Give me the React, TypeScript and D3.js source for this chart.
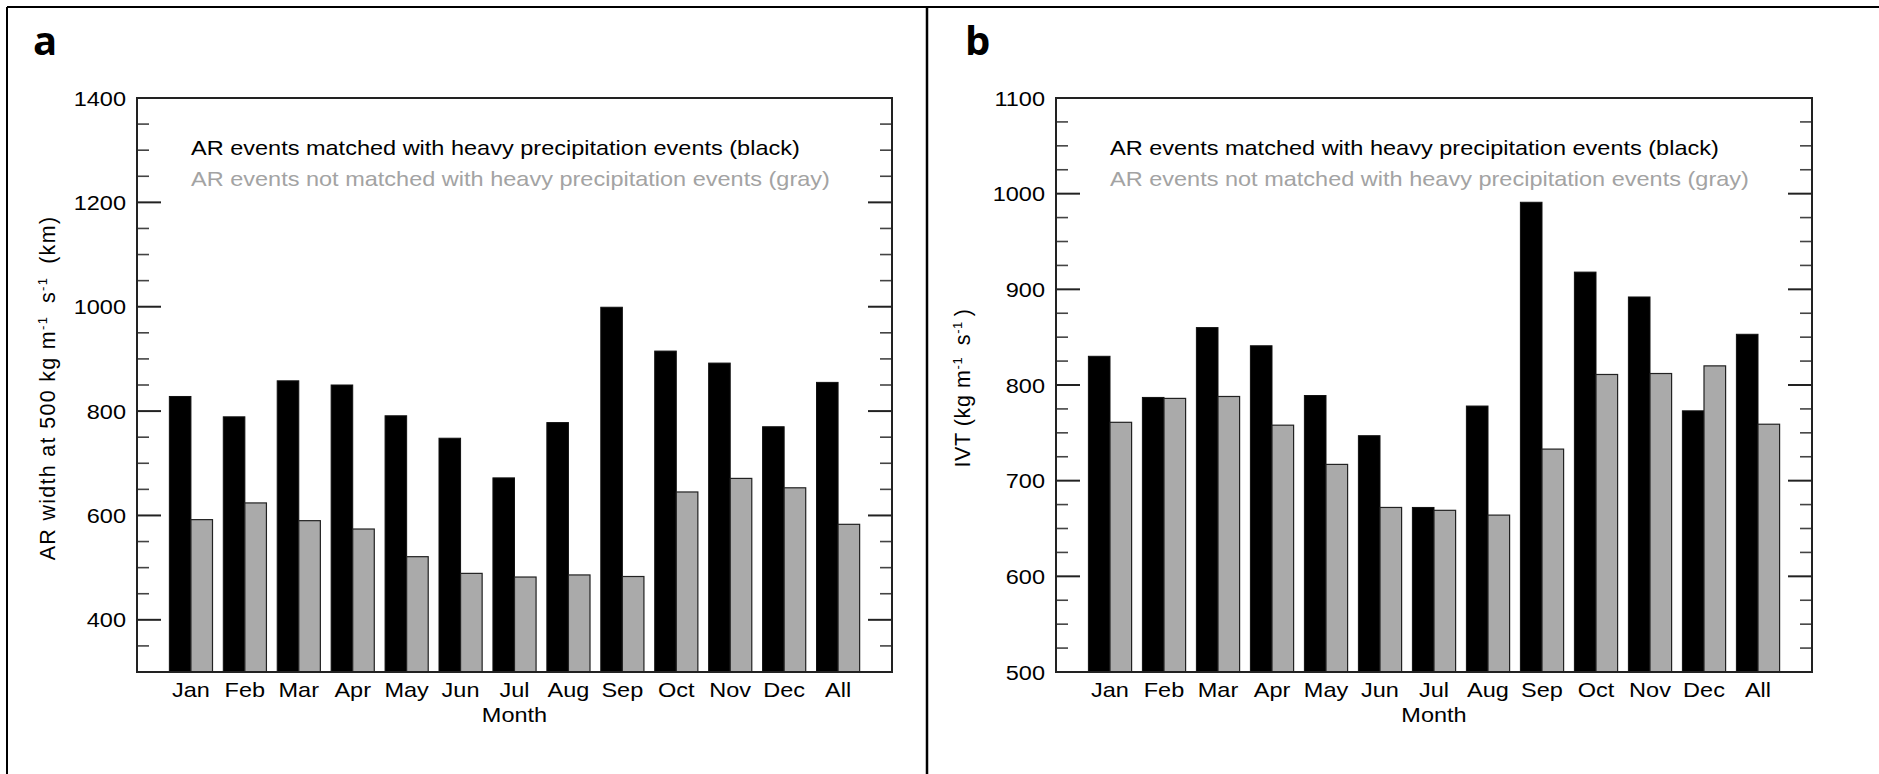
import React, { useEffect, useRef } from 'react';
import * as d3 from 'd3';

const months = ['Jan', 'Feb', 'Mar', 'Apr', 'May', 'Jun', 'Jul', 'Aug', 'Sep', 'Oct', 'Nov', 'Dec', 'All'];

// panel a: AR width (km)
const widthMatched = [828, 789, 858, 850, 791, 748, 672, 778, 999, 915, 892, 770, 855];
const widthUnmatched = [592, 624, 590, 574, 521, 489, 482, 486, 483, 645, 671, 653, 583];
const widthTicks = [400, 600, 800, 1000, 1200, 1400];

// panel b: IVT
const ivtMatched = [830, 787, 860, 841, 789, 747, 672, 778, 991, 918, 892, 773, 853];
const ivtUnmatched = [761, 786, 788, 758, 717, 672, 669, 664, 733, 811, 812, 820, 759];
const ivtTicks = [500, 600, 700, 800, 900, 1000, 1100];

const legendBlack = 'AR events matched with heavy precipitation events (black)';
const legendGray = 'AR events not matched with heavy precipitation events (gray)';

const FONT = '"Liberation Sans", Arial, Helvetica, sans-serif';
const SX = 1.12; // text in the figure is a bit wider than Helvetica

function stretchedText(g, x, y, str, anchor = 'start', color = '#000', size = 21) {
    return g.append('text')
        .attr('transform', `translate(${x},${y}) scale(${SX},1)`)
        .attr('text-anchor', anchor)
        .attr('font-family', FONT)
        .attr('font-size', size)
        .attr('fill', color)
        .text(str);
}

function drawPanel(svg, opts) {
    const { left, right, top, bottom, domain, ticks, minorStep, matched, unmatched, letter, letterX, yLabel, yLabelX, yLabelSpacing } = opts;
    const g = svg.append('g');

    const x = d3.scalePoint().domain(months).range([left, right]).padding(1);
    const y = d3.scaleLinear().domain(domain).range([bottom, top]);
    const bw = x.step() * 0.4;

    // bars
    g.selectAll('rect.black')
        .data(months)
        .enter().append('rect')
        .attr('x', d => x(d) - bw)
        .attr('y', (d, i) => y(matched[i]))
        .attr('width', bw)
        .attr('height', (d, i) => bottom - y(matched[i]))
        .attr('fill', '#000')
        .attr('stroke', '#111')
        .attr('stroke-width', 1);

    g.selectAll('rect.gray')
        .data(months)
        .enter().append('rect')
        .attr('x', d => x(d))
        .attr('y', (d, i) => y(unmatched[i]))
        .attr('width', bw)
        .attr('height', (d, i) => bottom - y(unmatched[i]))
        .attr('fill', '#aaaaaa')
        .attr('stroke', '#222')
        .attr('stroke-width', 1.2);

    // minor + major ticks, both sides, pointing inward
    const minor = d3.range(domain[0], domain[1] + 0.001, minorStep).filter(v => v > domain[0] && v < domain[1]);
    minor.forEach(v => {
        const major = ticks.includes(v);
        const len = major ? 24 : 12;
        [[left, left + len], [right, right - len]].forEach(([a, b]) => {
            g.append('line')
                .attr('x1', a).attr('x2', b)
                .attr('y1', y(v)).attr('y2', y(v))
                .attr('stroke', major ? '#222' : '#444')
                .attr('stroke-width', major ? 2 : 1.6);
        });
    });

    // frame
    g.append('rect')
        .attr('x', left).attr('y', top)
        .attr('width', right - left).attr('height', bottom - top)
        .attr('fill', 'none')
        .attr('stroke', '#222')
        .attr('stroke-width', 2);

    // y tick labels
    ticks.forEach(v => {
        stretchedText(g, left - 11, y(v) + 7.5, String(v), 'end');
    });

    // x tick labels
    months.forEach(m => {
        stretchedText(g, x(m), bottom + 25, m, 'middle');
    });

    stretchedText(g, (left + right) / 2, bottom + 50, 'Month', 'middle');

    // legend
    stretchedText(g, left + 54, 155, legendBlack, 'start', '#000');
    stretchedText(g, left + 54, 186, legendGray, 'start', '#a3a3a3');

    // panel letter
    g.append('text')
        .attr('x', letterX).attr('y', 55)
        .attr('font-family', '"Open Sans", sans-serif')
        .attr('font-weight', 700)
        .attr('font-size', 40)
        .text(letter);

    // y axis label
    const yl = g.append('text')
        .attr('transform', `translate(${yLabelX},${(top + bottom) / 2 + 3}) rotate(-90)`)
        .attr('text-anchor', 'middle')
        .attr('font-family', FONT)
        .attr('font-size', 21.5)
        .attr('letter-spacing', yLabelSpacing);
    yLabel.forEach(part => {
        if (part.sup) {
            yl.append('tspan').attr('dy', -8).attr('font-size', 13).text(part.t);
            yl.append('tspan').attr('dy', 8).text('\u2009');
        } else {
            yl.append('tspan').text(part.t);
        }
    });
}

function App() {
    const ref = useRef(null);

    useEffect(() => {
        const svg = d3.select(ref.current);
        svg.selectAll('*').remove();

        svg.append('rect').attr('width', 1879).attr('height', 774).attr('fill', '#fff');

        // outer frame + divider
        svg.append('line').attr('x1', 7).attr('x2', 1879).attr('y1', 7).attr('y2', 7).attr('stroke', '#000').attr('stroke-width', 2);
        svg.append('line').attr('x1', 7).attr('x2', 7).attr('y1', 7).attr('y2', 774).attr('stroke', '#000').attr('stroke-width', 2);
        svg.append('line').attr('x1', 927).attr('x2', 927).attr('y1', 7).attr('y2', 774).attr('stroke', '#000').attr('stroke-width', 2.5);

        drawPanel(svg, {
            left: 137, right: 892, top: 98, bottom: 672,
            domain: [300, 1400], ticks: widthTicks, minorStep: 50,
            matched: widthMatched, unmatched: widthUnmatched,
            letter: 'a', letterX: 33,
            yLabel: [{ t: 'AR width at 500 kg m' }, { t: '-1', sup: true }, { t: '  s' }, { t: '-1', sup: true }, { t: '  (km)' }],
            yLabelX: 55, yLabelSpacing: 1.3,
        });

        drawPanel(svg, {
            left: 1056, right: 1812, top: 98, bottom: 672,
            domain: [500, 1100], ticks: ivtTicks, minorStep: 25,
            matched: ivtMatched, unmatched: ivtUnmatched,
            letter: 'b', letterX: 965,
            yLabel: [{ t: 'IVT (kg m' }, { t: '-1', sup: true }, { t: ' s' }, { t: '-1', sup: true }, { t: ')' }],
            yLabelX: 970, yLabelSpacing: 0.6,
        });
    }, []);

    return (
        <svg ref={ref} width={1879} height={774} style={{ position: 'absolute', left: 0, top: 0, display: 'block' }} />
    );
}

export default App;
